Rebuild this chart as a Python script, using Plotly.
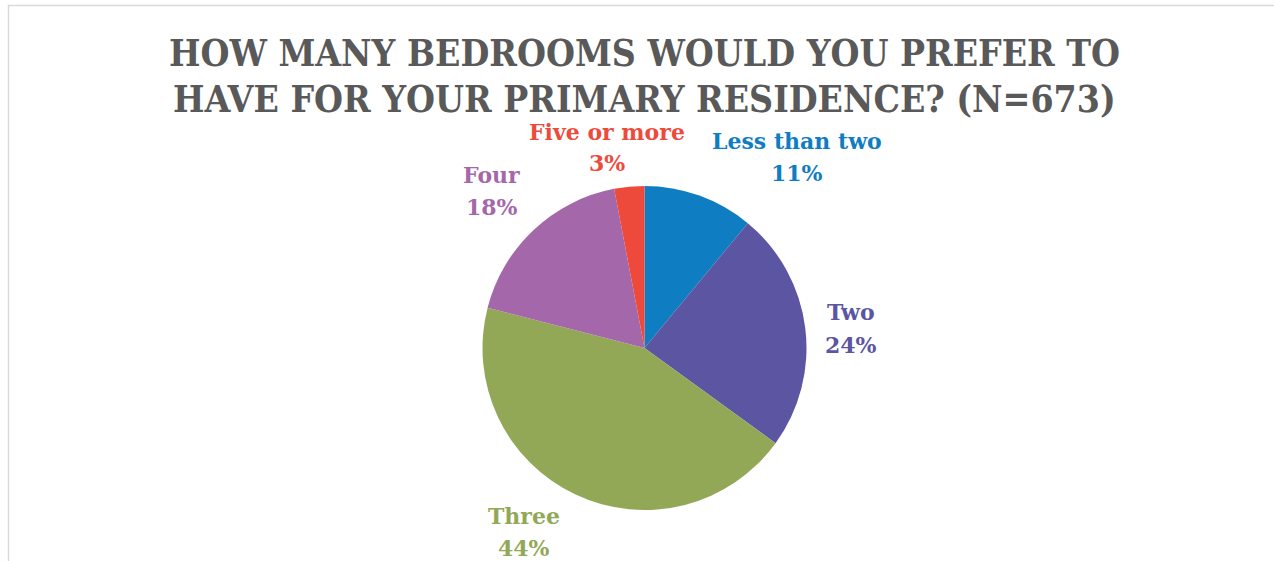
import plotly.graph_objects as go

# Survey answers, clockwise from 12 o'clock
categories = ["Less than two", "Two", "Three", "Four", "Five or more"]
shares = [11, 24, 44, 18, 3]
slice_colors = ["#0F7DC2", "#5C55A2", "#93A857", "#A468AA", "#EE4A3B"]

title_lines = ["HOW MANY BEDROOMS WOULD YOU PREFER TO",
               "HAVE FOR YOUR PRIMARY RESIDENCE? (N=673)"]

W, H = 1274, 561
FONT = "DejaVu Serif Condensed, DejaVu Serif"
LABEL_FONT = "DejaVu Serif"

# pie placement in pixels (centre and radius)
cx, cy, r = 644.5, 348, 162

fig = go.Figure(go.Pie(
    labels=categories,
    values=shares,
    marker=dict(colors=slice_colors, line=dict(width=0)),
    sort=False,
    direction="clockwise",
    rotation=0,
    textinfo="none",
    hoverinfo="label+percent",
    showlegend=False,
    domain=dict(x=[(cx - r) / W, (cx + r) / W],
                y=[(H - cy - r) / H, (H - cy + r) / H]),
))


def text_at(px, py, txt, size, color, family):
    fig.add_annotation(
        x=px / W, y=1 - py / H, xref="paper", yref="paper",
        text=txt, showarrow=False,
        font=dict(family=family, size=size, color=color, weight="bold"),
        align="center", xanchor="center", yanchor="middle",
    )


# outside label anchors (pixel centres of the two label lines)
label_pos = {
    "Less than two": (797, 141, 173),
    "Two": (851, 312, 345),
    "Three": (524, 516, 548),
    "Four": (492, 175, 207),
    "Five or more": (607, 132, 163),
}
for name, val, col in zip(categories, shares, slice_colors):
    px, y1, y2 = label_pos[name]
    text_at(px, y1, name, 22, col, LABEL_FONT)
    text_at(px, y2, f"{val}%", 22, col, LABEL_FONT)

# two-line title
for line, ty in zip(title_lines, (53, 99)):
    text_at(644, ty, line, 37, "#595959", FONT)

# chart-area frame (top and left edges visible)
fig.add_shape(type="rect", xref="paper", yref="paper",
              x0=8.5 / W, x1=1.05, y0=-0.05, y1=1 - 5.5 / H,
              line=dict(color="#D9D9D9", width=1.5), layer="below")

fig.update_layout(
    width=W, height=H,
    margin=dict(l=0, r=0, t=0, b=0),
    paper_bgcolor="white",
    plot_bgcolor="white",
)

fig.write_html("out.html")
